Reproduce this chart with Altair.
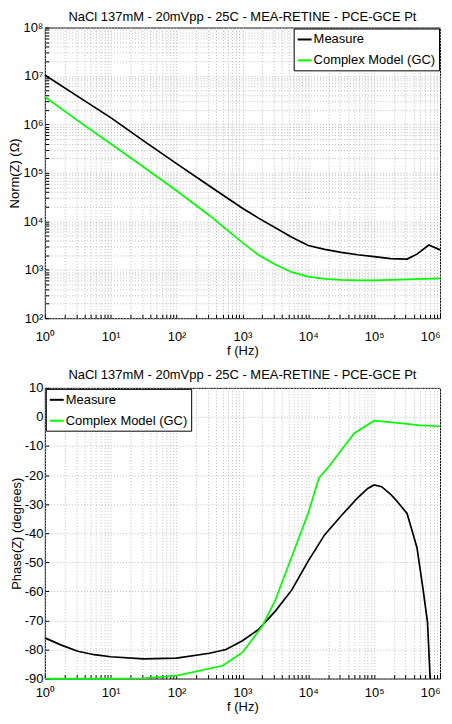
import altair as alt
import pandas as pd

title_text = "NaCl 137mM - 20mVpp - 25C - MEA-RETINE - PCE-GCE Pt"
series_names = ["Measure", "Complex Model (GC)"]
series_colors = ["#000000", "#00ff00"]

# |Z| measured
mag_meas_f = [1, 3.16, 10, 31.6, 100, 316, 1000, 1780, 3160, 5620, 10000, 17800,
              31600, 56200, 100000, 178000, 316000, 447000, 676000, 1000000]
mag_meas_z = [1.05e7, 3.8e6, 1.38e6, 4.57e5, 1.55e5, 5.37e4, 1.86e4, 1.15e4, 7.4e3,
              4.68e3, 3.16e3, 2.63e3, 2.29e3, 2.04e3, 1.86e3, 1.70e3, 1.66e3, 2.1e3,
              3.24e3, 2.57e3]
# |Z| model
mag_model_f = [1, 3.16, 10, 31.6, 100, 316, 1000, 1780, 3160, 5620, 10000, 17800,
               31600, 56200, 100000, 316000, 1000000]
mag_model_z = [3.72e6, 1.20e6, 3.98e5, 1.32e5, 4.27e4, 1.32e4, 3.63e3, 2.0e3, 1.29e3,
               891, 724, 646, 617, 603, 603, 631, 661]

# phase measured
ph_meas_f = [1, 1.78, 3.16, 5.62, 10, 31.6, 100, 316, 562, 1000, 1780, 3160, 5620,
             10000, 17800, 31600, 56200, 80000, 100000, 130000, 178000, 214000,
             316000, 447000, 550000, 646000, 708000]
ph_meas_deg = [-76, -78.5, -80.6, -81.8, -82.5, -83.2, -83.0, -81.3, -80.0, -77.0,
               -73.0, -66.8, -59.5, -49.5, -40.5, -34.0, -27.8, -24.6, -23.4, -24.0,
               -26.6, -28.6, -33.2, -45.0, -59.0, -70.6, -90.0]
# phase model
ph_model_f = [1, 10, 31.6, 100, 500, 1000, 2000, 3160, 5620, 10000, 14500, 21000,
              37000, 50000, 100000, 316000, 500000, 1000000]
ph_model_deg = [-90, -90, -89.9, -89, -85.6, -81, -72, -63, -48, -33, -21, -16.8,
                -9.4, -5.6, -1.3, -2.4, -2.9, -3.2]

x_ticks = [m * 10 ** k for k in range(6) for m in range(1, 10)] + [10 ** 6]
x_decades = [10 ** k for k in range(7)]
y_mag_ticks = [m * 10 ** k for k in range(2, 8) for m in range(1, 10)] + [10 ** 8]
y_mag_decades = [10 ** k for k in range(2, 9)]
y_ph_ticks = [-90, -80, -70, -60, -50, -40, -30, -20, -10, 0, 10]

FONT = "Liberation Sans"
W, H = 397, 292
TICK = 4


def sup_expr(decades):
    arr = "[" + ",".join(str(d) for d in decades) + "]"
    e = "round(log(datum.value)/LN10)"
    return (f"indexof({arr}, datum.value) >= 0 ? '10' + "
            f"substring('⁰¹²³⁴⁵⁶⁷⁸⁹', {e}, {e}+1) : ''")


mag_df = pd.concat([
    pd.DataFrame({"f": mag_meas_f, "v": mag_meas_z, "s": series_names[0]}),
    pd.DataFrame({"f": mag_model_f, "v": mag_model_z, "s": series_names[1]}),
])
ph_df = pd.concat([
    pd.DataFrame({"f": ph_meas_f, "v": ph_meas_deg, "s": series_names[0]}),
    pd.DataFrame({"f": ph_model_f, "v": ph_model_deg, "s": series_names[1]}),
])

x_scale = alt.Scale(type="log", domain=[1, 1e6], nice=False)
mag_scale = alt.Scale(type="log", domain=[100, 1e8], nice=False)
ph_scale = alt.Scale(domain=[-90, 10], nice=False)


def legend(orient):
    return alt.Legend(title=None, orient=orient, offset=1, strokeColor="black",
                      fillColor="white", padding=3, symbolType="stroke",
                      symbolStrokeWidth=2, symbolSize=196, labelFontSize=13,
                      labelFont=FONT, rowPadding=6, labelOffset=1, cornerRadius=0,
                      labelLimit=300)


last_right = {"condition": {"test": "datum.value >= 1000000", "value": "right"},
              "value": "center"}


def panel(df, y_scale, y_axis, legend_orient, x_label_pad, x_title_pad, t_off):
    return alt.Chart(df).mark_line(strokeWidth=1.7).encode(
        x=alt.X("f:Q", scale=x_scale,
                axis=alt.Axis(values=x_ticks, labelExpr=sup_expr(x_decades),
                              title="f (Hz)", labelOverlap=False, labelFlush=False,
                              labelAlign=last_right, offset=-TICK, tickSize=TICK,
                              domain=False, labelPadding=x_label_pad,
                              titlePadding=x_title_pad)),
        y=alt.Y("v:Q", scale=y_scale, axis=y_axis),
        color=alt.Color("s:N", scale=alt.Scale(domain=series_names, range=series_colors),
                        sort=series_names, legend=legend(legend_orient)),
        detail="s:N",
    ).properties(width=W, height=H,
                 title=alt.TitleParams(title_text, fontSize=13, font=FONT,
                                       fontWeight="normal", offset=t_off,
                                       frame="group"))


top = panel(
    mag_df, mag_scale,
    alt.Axis(values=y_mag_ticks, labelExpr=sup_expr(y_mag_decades),
             title="Norm(Z) (Ω)", labelOverlap=False, labelFlush=False,
             offset=-TICK, tickSize=TICK, domain=False, labelPadding=2,
             titlePadding=1),
    "top-right", 12, 1, -2)

bottom = panel(
    ph_df, ph_scale,
    alt.Axis(values=y_ph_ticks, labelExpr="'' + datum.value",
             title="Phase(Z) (degrees)", labelOverlap=False, labelFlush=False,
             offset=-TICK, tickSize=TICK, domain=False, labelPadding=2,
             titlePadding=1),
    "top-left", 8, 1, 0)

chart = alt.vconcat(top, bottom, spacing=10).resolve_scale(color="independent").properties(
    padding=0
).configure_view(stroke="black", strokeWidth=1).configure_axis(
    labelFont=FONT, titleFont=FONT, labelFontSize=13, titleFontSize=13,
    titleFontWeight="normal", labelColor="black", titleColor="black",
    domainColor="black", tickColor="black", gridColor="#bdbdbd", gridDash=[1, 2],
    gridWidth=1, gridOpacity=1
).configure_legend(labelColor="black")

chart.save("out.html", embed_options={"renderer": "svg", "actions": False})
